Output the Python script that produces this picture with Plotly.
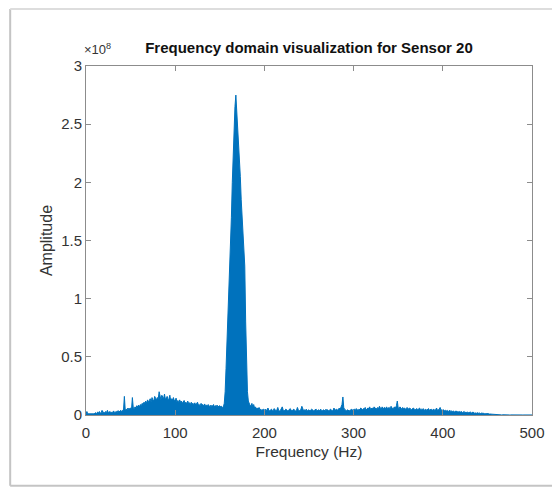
import plotly.graph_objects as go

# Frequency bins (Hz), 1 Hz resolution
freq_hz = list(range(0, 501))

# Amplitude, in units of 1e6
amp_e6 = [
    # 0-9
    1, 3, 1, 1, 0.5, 0.8, 1, 0.6, 0.8, 1,
    # 10-19
    1.5, 2, 1.2, 2.5, 1.8, 3, 1.5, 2, 4, 2,
    # 20-29
    2.5, 1.8, 3, 2.2, 4, 2, 2.5, 3, 1.8, 2.6,
    # 30-39
    2.2, 3.5, 2, 2.8, 3, 2.4, 3.8, 2.6, 3.2, 4,
    # 40-49
    3, 4, 3.5, 16, 4, 5, 4.5, 6, 5, 5.5,
    # 50-59
    6, 4.5, 15, 6, 5.5, 7, 6, 8, 7, 8.5,
    # 60-69
    7, 9, 8, 10, 9, 11, 10, 12, 10, 13,
    # 70-79
    11, 12.5, 14, 11, 15, 13, 12, 16, 14, 13,
    # 80-89
    15, 14, 20, 16, 13, 17, 15, 14, 18, 13,
    # 90-99
    15, 16, 13, 14, 17, 12, 14, 13, 15, 12,
    # 100-109
    13, 14.5, 11, 12.5, 10.5, 13, 11, 12, 10, 11.5,
    # 110-119
    12.5, 10, 11, 9.5, 12, 10, 10.5, 9, 11, 9.5,
    # 120-129
    10, 9, 10.5, 8.5, 9.5, 11, 8.5, 9, 8, 10,
    # 130-139
    8.5, 9, 7.5, 9.5, 8, 8.5, 7.5, 9, 8, 7,
    # 140-149
    8.5, 7.5, 8, 9, 7, 8, 7.5, 8.5, 7, 7.5,
    # 150-159
    8, 7, 7.5, 6.5, 7, 10, 20, 40, 60, 85,
    # 160-169
    105, 125, 145, 170, 200, 230, 250, 265, 275, 262,
    # 170-179
    245, 238, 228, 205, 185, 172, 160, 140, 128, 80,
    # 180-189
    40, 20, 12, 9, 8, 8, 10, 7, 9, 6,
    # 190-199
    7, 5.5, 6, 5, 6.5, 4.5, 5, 4, 4.5, 5,
    # 200-209
    4, 5, 3.5, 4.5, 6, 4, 3.5, 4.5, 5, 3.5,
    # 210-219
    4, 5.5, 4, 3.5, 4.5, 6.5, 4, 3.5, 4, 5,
    # 220-229
    7, 4.5, 3.5, 4, 5, 4.5, 3.5, 4, 4.5, 5.5,
    # 230-239
    4, 3.5, 4.5, 5, 4, 3.5, 4, 6.5, 4.5, 3.5,
    # 240-249
    4, 5, 7.5, 4, 3.5, 4.5, 4, 5, 3.5, 4,
    # 250-259
    4.5, 3.5, 4, 5, 4.5, 3.5, 4, 4.5, 5, 3.5,
    # 260-269
    4, 4.5, 3.5, 5, 4, 3.5, 4.5, 4, 3.5, 5,
    # 270-279
    4, 4.5, 3.5, 4, 5, 4.5, 3.5, 4, 6, 4,
    # 280-289
    4.5, 5, 4, 5.5, 6, 5, 7, 9, 15.5, 6,
    # 290-299
    5, 4, 3.5, 4.5, 4, 3.5, 4, 4.5, 5, 4,
    # 300-309
    4.5, 5, 4, 5.5, 4.5, 4, 5, 4.5, 6, 5,
    # 310-319
    4.5, 5.5, 5, 6.5, 4.5, 5, 6, 5.5, 7, 5,
    # 320-329
    5.5, 6, 5, 7, 5.5, 6, 5, 6.5, 5.5, 7.5,
    # 330-339
    6, 5, 7, 5.5, 6, 6.5, 5, 7, 5.5, 6,
    # 340-349
    6.5, 5, 7.5, 6, 5.5, 6, 7, 6, 8, 12,
    # 350-359
    6, 5.5, 7, 6, 5, 6.5, 5.5, 6, 5, 5.5,
    # 360-369
    6.5, 5, 5.5, 6, 5, 4.5, 5.5, 6, 5, 4.5,
    # 370-379
    5, 5.5, 4.5, 5, 6, 4.5, 5, 4.5, 5.5, 4,
    # 380-389
    4.5, 5, 4, 4.5, 5.5, 4, 4.5, 5, 4, 4.5,
    # 390-399
    5, 4, 4.5, 6, 4, 4.5, 5, 6.5, 4, 4.5,
    # 400-409
    4, 4.5, 3.5, 4, 3.5, 4, 3, 3.5, 4, 3,
    # 410-419
    3.5, 3, 3.5, 2.5, 3, 3.5, 2.5, 3, 2.5, 3,
    # 420-429
    2.5, 3, 2, 2.5, 3, 2, 2.5, 2, 2.5, 2,
    # 430-439
    2, 2.5, 1.8, 2, 2.5, 1.5, 2, 1.8, 1.5, 2,
    # 440-449
    1.5, 1.8, 1.2, 1.5, 1.8, 1.2, 1.5, 1, 1.2, 1,
    # 450-459
    1, 1.2, 0.8, 1, 0.8, 0.7, 0.6, 0.5, 0.4, 0.3,
    # 460-469
    0.3, 0.2, 0.3, 0.2, 0.2, 0.2, 0.1, 0.2, 0.1, 0.1,
    # 470-479
    0.1, 0.1, 0.05, 0.1, 0.05, 0.05, 0.1, 0.05, 0.05, 0.05,
    # 480-489
    0.05, 0.05, 0.05, 0.05, 0.05, 0.05, 0.05, 0.05, 0.05, 0.05,
    # 490-500
    0.05, 0.05, 0.05, 0.05, 0.05, 0.05, 0.05, 0.05, 0.05, 0.05, 0.05,
]

amplitude = [v * 1e6 for v in amp_e6]

x_ticks = [0, 100, 200, 300, 400, 500]
y_tick_vals = [0, 0.5e8, 1e8, 1.5e8, 2e8, 2.5e8, 3e8]
y_tick_text = ["0", "0.5", "1", "1.5", "2", "2.5", "3"]

title_text = "Frequency domain visualization for Sensor 20"
x_label = "Frequency (Hz)"
y_label = "Amplitude"

line_color = "#0072BD"
axis_color = "#8c8c8c"
text_color = "#333333"
font_family = "Liberation Sans, Arial, sans-serif"

fig = go.Figure()
fig.add_trace(go.Scatter(
    x=freq_hz, y=amplitude, mode="lines",
    line=dict(color=line_color, width=1),
    fill="tozeroy", fillcolor=line_color,
    hoverinfo="skip", showlegend=False,
))

fig.update_layout(
    width=560, height=488,
    margin=dict(l=78, r=36, t=58, b=81),
    paper_bgcolor="white", plot_bgcolor="white",
    font=dict(family=font_family, size=15, color=text_color),
    title=dict(text="<b>" + title_text + "</b>", x=0.5, xref="paper", xanchor="center",
               y=0.918, yanchor="middle", font=dict(size=15, color="#111111")),
    showlegend=False,
)

fig.update_xaxes(
    range=[0, 500], tickvals=x_ticks, ticktext=[str(t) for t in x_ticks],
    showgrid=False, zeroline=False, showline=True, linecolor=axis_color,
    linewidth=1, mirror="ticks", ticks="inside", ticklen=5, tickcolor=axis_color,
    tickfont=dict(size=15, color=text_color), ticklabelstandoff=4,
    title=dict(text=x_label, font=dict(size=15.5, color=text_color), standoff=6),
)
fig.update_yaxes(
    range=[0, 3e8], tickvals=y_tick_vals, ticktext=y_tick_text,
    showgrid=False, zeroline=False, showline=True, linecolor=axis_color,
    linewidth=1, mirror="ticks", ticks="inside", ticklen=5, tickcolor=axis_color,
    tickfont=dict(size=15, color=text_color),
    title=dict(text=y_label, font=dict(size=16, color=text_color), standoff=4),
)

# exponent label
fig.add_annotation(
    xref="paper", yref="paper", x=-0.01, y=1.0, xanchor="left", yanchor="bottom",
    text="×10<sup>8</sup>", showarrow=False, font=dict(size=13, color=text_color),
    yshift=7,
)

# screenshot frame (left, top, bottom edges)
frame_color = "#c4c4c4"
fig.add_shape(type="line", xref="paper", yref="paper",
              x0=-0.170, x1=-0.170, y0=-0.203, y1=1.163,
              line=dict(color=frame_color, width=2))
fig.add_shape(type="line", xref="paper", yref="paper",
              x0=-0.170, x1=1.09, y0=1.163, y1=1.163,
              line=dict(color="#dddddd", width=2))
fig.add_shape(type="line", xref="paper", yref="paper",
              x0=-0.170, x1=1.09, y0=-0.203, y1=-0.203,
              line=dict(color=frame_color, width=2))

fig.write_html("out.html")
